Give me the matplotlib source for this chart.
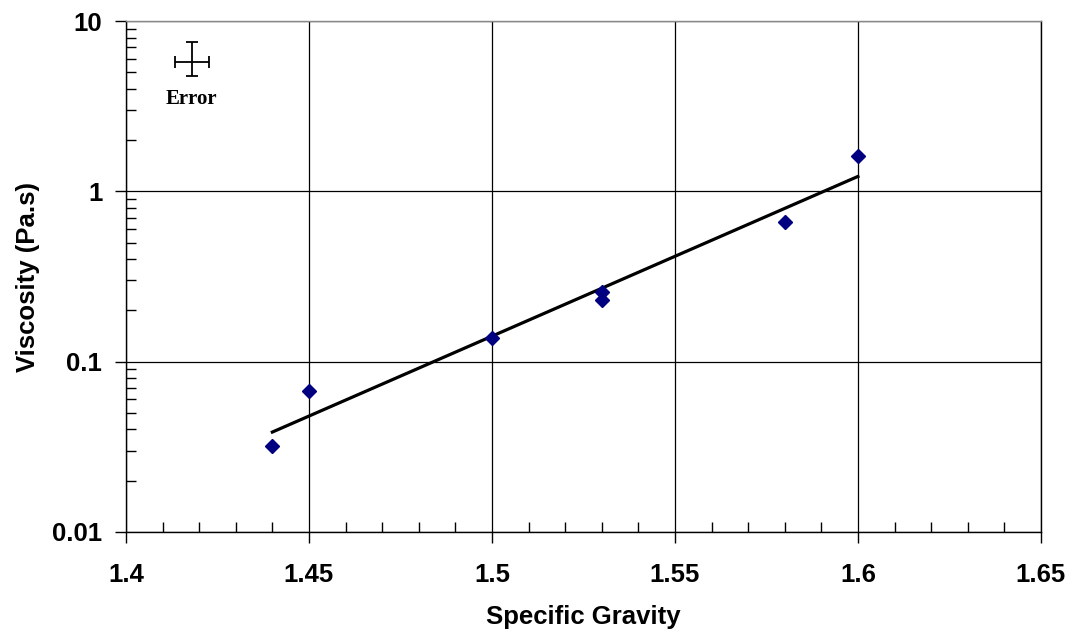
import numpy as np
import matplotlib
matplotlib.use("Agg")
import matplotlib.pyplot as plt
from matplotlib.ticker import MultipleLocator, FixedLocator, LogLocator, NullFormatter

# Measured samples
specific_gravity = [1.44, 1.45, 1.50, 1.53, 1.53, 1.58, 1.60]
viscosity = [0.032, 0.0675, 0.138, 0.255, 0.229, 0.658, 1.61]

x_ticks = [1.4, 1.45, 1.5, 1.55, 1.6, 1.65]
x_tick_labels = ["1.4", "1.45", "1.5", "1.55", "1.6", "1.65"]
y_ticks = [0.01, 0.1, 1, 10]
y_tick_labels = ["0.01", "0.1", "1", "10"]

# Representative measurement uncertainty
err_x, err_y = 1.418, 5.74
err_dx = 0.0046
err_dy_low, err_dy_high = 0.99, 1.78

plt.rcParams["font.family"] = ["Liberation Sans", "DejaVu Sans"]

fig = plt.figure(figsize=(10.71, 6.31), dpi=100)
ax = fig.add_axes([0.1176, 0.1569, 0.8543, 0.8098])

ax.set_yscale("log")
ax.set_xlim(1.4, 1.65)
ax.set_ylim(0.01, 10)

# Exponential trendline (least squares on log10 viscosity)
sg = np.array(specific_gravity)
slope, intercept = np.polyfit(sg, np.log10(viscosity), 1)
xf = np.array([sg.min(), sg.max()])
ax.plot(xf, 10 ** (slope * xf + intercept), color="black", lw=2.3, zorder=3)

ax.plot(specific_gravity, viscosity, linestyle="none", marker="D",
        markersize=7.5, color="#000080", markeredgecolor="#000080", zorder=4)

ax.errorbar([err_x], [err_y], xerr=[[err_dx], [err_dx]],
            yerr=[[err_dy_low], [err_dy_high]], fmt="none",
            ecolor="black", elinewidth=1.3, capsize=4.5, capthick=1.3, zorder=4)
ax.text(err_x, 3.5, "Error", ha="center", va="center", fontsize=15,
        fontweight="bold", family=["Liberation Serif", "DejaVu Serif"])

ax.xaxis.set_major_locator(FixedLocator(x_ticks))
ax.set_xticklabels(x_tick_labels)
ax.xaxis.set_minor_locator(MultipleLocator(0.01))
ax.yaxis.set_major_locator(FixedLocator(y_ticks))
ax.set_yticklabels(y_tick_labels)
ax.yaxis.set_minor_locator(LogLocator(base=10, subs=np.arange(2, 10)))
ax.yaxis.set_minor_formatter(NullFormatter())

ax.grid(True, which="major", color="black", lw=0.9)
ax.set_axisbelow(True)
for s in ax.spines.values():
    s.set_color("black")
    s.set_linewidth(1.0)
ax.spines["top"].set_color("#888888")

ax.tick_params(which="major", direction="out", length=8, width=1,
               labelsize=18.5, pad=14)
ax.tick_params(axis="y", which="major", pad=9)
ax.tick_params(which="minor", direction="in", length=7, width=1)
for lbl in ax.get_xticklabels() + ax.get_yticklabels():
    lbl.set_fontweight("bold")

ax.set_xlabel("Specific Gravity", fontsize=18.5, fontweight="bold", va="center")
ax.set_ylabel("Viscosity (Pa.s)", fontsize=18.5, fontweight="bold", va="center")
ax.xaxis.set_label_coords(0.5, -0.166)
ax.yaxis.set_label_coords(-0.107, 0.5)

fig.savefig("out.png", dpi=100)
